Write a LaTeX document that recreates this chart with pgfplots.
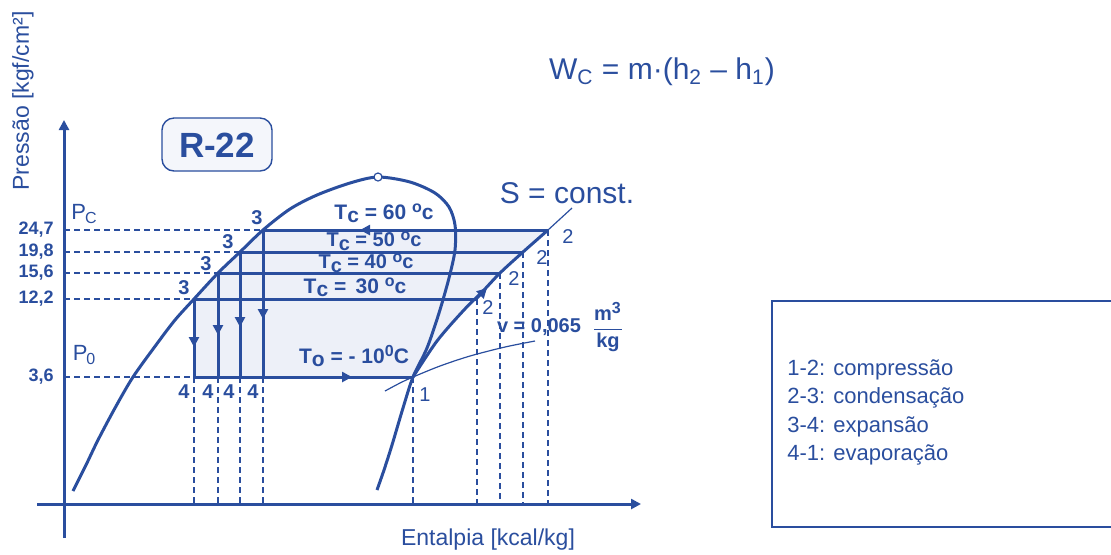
\documentclass[border=0pt]{standalone}
\usepackage{pgfplots}
\pgfplotsset{compat=1.18}
\usepackage{fontspec}
\setmainfont{Liberation Sans}
\usetikzlibrary{arrows.meta}
\definecolor{cb}{HTML}{2A4E9E}
\definecolor{cfill}{HTML}{EDF0F8}
\newcommand{\fs}[1]{\fontsize{#1}{#1}\selectfont}
\newcommand{\gr}{\smash{\raisebox{0.6ex}{\fs{8}o}}}
\begin{document}
\begin{tikzpicture}
\begin{axis}[
  width=555.5pt, height=277pt, scale only axis,
  xmin=0, xmax=1111, ymin=0, ymax=554, y dir=reverse,
  axis lines=none, clip=false,
  every axis plot/.append style={cb},
  thickl/.style={cb, line width=1.5pt},
  dsh/.style={cb, line width=0.6pt, dash pattern=on 3pt off 2pt},
  arr/.style={cb, line width=1.5pt, -{Triangle[length=5pt,width=5pt]}},
]
% shaded cycle region
\addplot[fill=cfill, draw=none] coordinates {(194,299) (194,377) (413,377) (437,340) (463,310) (483,292) (500,273) (523,253) (548,230) (263,230) (240,252) (218,273) (194,299)} -- cycle;
% R-22 box
\addplot[fill=cfill!60!white, draw=cb, line width=0.7pt, rounded corners=6pt] coordinates {(162,118) (272,118) (272,171) (162,171)} -- cycle;
% axes
\addplot[cb, line width=1.5pt, -{Triangle[length=5pt,width=5pt]}] coordinates {(64,538) (64,120)};
\addplot[cb, line width=1.5pt, -{Triangle[length=5pt,width=5pt]}] coordinates {(37,504) (641,504)};
% dashed horizontal guides
\addplot[dsh] coordinates {(64,230) (263,230)};
\addplot[dsh] coordinates {(64,252) (240,252)};
\addplot[dsh] coordinates {(64,273) (218,273)};
\addplot[dsh] coordinates {(64,299) (194,299)};
\addplot[dsh] coordinates {(64,377) (194,377)};
% dashed verticals
\addplot[dsh] coordinates {(194,377) (194,504)};
\addplot[dsh] coordinates {(218,377) (218,504)};
\addplot[dsh] coordinates {(240,377) (240,504)};
\addplot[dsh] coordinates {(263,377) (263,504)};
\addplot[dsh] coordinates {(413,377) (413,504)};
\addplot[dsh] coordinates {(477,299) (477,504)};
\addplot[dsh] coordinates {(500,273) (500,504)};
\addplot[dsh] coordinates {(523,252) (523,504)};
\addplot[dsh] coordinates {(548,230) (548,504)};
% condensation lines
\addplot[thickl] coordinates {(263,230) (548,230)};
\addplot[thickl] coordinates {(240,252) (523,252)};
\addplot[thickl] coordinates {(218,273) (500,273)};
\addplot[thickl] coordinates {(194,299) (477,299)};
% evaporation
\addplot[thickl] coordinates {(194,377) (413,377)};
% expansion
\addplot[thickl] coordinates {(194,299) (194,377)};
\addplot[thickl] coordinates {(218,273) (218,377)};
\addplot[thickl] coordinates {(240,252) (240,377)};
\addplot[thickl] coordinates {(263,230) (263,377)};
% arrowheads
\addplot[arr] coordinates {(194,330) (194,347)};
\addplot[arr] coordinates {(218,318) (218,335)};
\addplot[arr] coordinates {(240,310) (240,327)};
\addplot[arr] coordinates {(263,302) (263,319)};
\addplot[arr] coordinates {(330,377) (352,377)};
\addplot[arr] coordinates {(380,230) (360,230)};
\addplot[arr] coordinates {(475,300) (487,288)};
% saturation dome
\addplot[thickl, smooth] coordinates {(73,491) (86,465) (98,440) (115,408) (133,377) (156,345) (175,320) (194,299) (218,273) (240,252) (263,230) (290,209) (317,195) (350,183) (378,177) (410,182) (435,193) (449,207) (455,225) (455,250) (449,278) (439,313) (427,348) (413,377) (403,408) (392,445) (384,470) (377,490)};
% isentrope
\addplot[thickl, smooth] coordinates {(413,377) (437,341) (463,311) (483,291) (500,273) (523,252) (548,230)};
\addplot[cb, line width=0.6pt] coordinates {(548,230) (572,208)};
% specific volume line
\addplot[cb, line width=0.6pt, smooth] coordinates {(385,391) (400,383) (413,377) (440,366) (470,356) (505,347) (535,341)};
% critical point
\addplot[only marks, mark=*, mark size=2pt, mark options={fill=white, draw=cb, line width=0.6pt}] coordinates {(378,177)};
% legend box (open on the right, cut by the edge)
\addplot[cb, line width=0.8pt] coordinates {(1115,301) (772,301) (772,527) (1115,527)};

% ---- texts ----
\node[text=cb, font=\fs{11.5}, rotate=90] at (23,101) {Pressão [kgf/cm²]};
\node[text=cb, font=\fs{11.5}] at (488,540) {Entalpia [kcal/kg]};
\node[text=cb, font=\fs{15}] at (662,72) {W\textsubscript{C} = m·(h\textsubscript{2} – h\textsubscript{1})};
\node[text=cb, font=\bfseries\fs{17.5}] at (217,145) {R-22};
\node[text=cb, font=\bfseries\fs{9}, anchor=east, inner sep=0pt] at (54,230) {24,7};
\node[text=cb, font=\bfseries\fs{9}, anchor=east, inner sep=0pt] at (54,252) {19,8};
\node[text=cb, font=\bfseries\fs{9}, anchor=east, inner sep=0pt] at (54,273) {15,6};
\node[text=cb, font=\bfseries\fs{9}, anchor=east, inner sep=0pt] at (54,299) {12,2};
\node[text=cb, font=\bfseries\fs{9}, anchor=east, inner sep=0pt] at (54,377) {3,6};
\node[text=cb, font=\fs{11}, inner sep=0pt] at (84,214) {P\kern-0.05em\raisebox{-0.3ex}{\fs{8}C}};
\node[text=cb, font=\fs{11}, inner sep=0pt] at (84,355) {P\kern-0.05em\raisebox{-0.3ex}{\fs{8}0}};
\node[text=cb, font=\bfseries\fs{10}] at (257,218) {3};
\node[text=cb, font=\bfseries\fs{10}] at (228,242) {3};
\node[text=cb, font=\bfseries\fs{10}] at (206,264) {3};
\node[text=cb, font=\bfseries\fs{10}] at (184,288) {3};
\node[text=cb, font=\bfseries\fs{10}] at (184,392) {4};
\node[text=cb, font=\bfseries\fs{10}] at (208,392) {4};
\node[text=cb, font=\bfseries\fs{10}] at (229,392) {4};
\node[text=cb, font=\bfseries\fs{10}] at (253,392) {4};
\node[text=cb, font=\fs{10}] at (568,237) {2};
\node[text=cb, font=\fs{10}] at (542,258) {2};
\node[text=cb, font=\fs{10}] at (514,279) {2};
\node[text=cb, font=\fs{10}] at (488,308) {2};
\node[text=cb, font=\fs{10}] at (425,395) {1};
\node[text=cb, font=\bfseries\fs{10.5}, inner sep=0pt] at (384,212) {T\smash{\raisebox{-0.3ex}{c}} = 60 \gr c};
\node[text=cb, font=\bfseries\fs{10}, inner sep=0pt] at (374,240) {T\smash{\raisebox{-0.3ex}{c}} = 50 \gr c};
\node[text=cb, font=\bfseries\fs{10}, inner sep=0pt] at (366,262) {T\smash{\raisebox{-0.3ex}{c}} = 40 \gr c};
\node[text=cb, font=\bfseries\fs{10.5}, inner sep=0pt] at (355,286) {T\smash{\raisebox{-0.3ex}{c}} = \,30 \gr c};
\node[text=cb, font=\bfseries\fs{10.5}] at (354,356) {T\raisebox{-0.3ex}{o} = - 10\raisebox{0.6ex}{\fs{8}0}C};
\node[text=cb, font=\fs{15}] at (567,193) {S = const.};
\node[text=cb, font=\bfseries\fs{10}] at (539,327) {v = 0,065};
\node[text=cb, font=\bfseries\fs{10}] at (608,327) {$\displaystyle\frac{\mbox{m}^{\mbox{\fs{8}3}}}{\mbox{kg}}$};
% legend text
\node[text=cb, font=\fs{11}, anchor=west, inner sep=0pt] at (787,370) {1-2: compressão};
\node[text=cb, font=\fs{11}, anchor=west, inner sep=0pt] at (787,398) {2-3: condensação};
\node[text=cb, font=\fs{11}, anchor=west, inner sep=0pt] at (787,427) {3-4: expansão};
\node[text=cb, font=\fs{11}, anchor=west, inner sep=0pt] at (787,455) {4-1: evaporação};
\end{axis}
\pgfresetboundingbox
\path (0,0) rectangle (555.5pt,277pt);
\end{tikzpicture}
\end{document}
